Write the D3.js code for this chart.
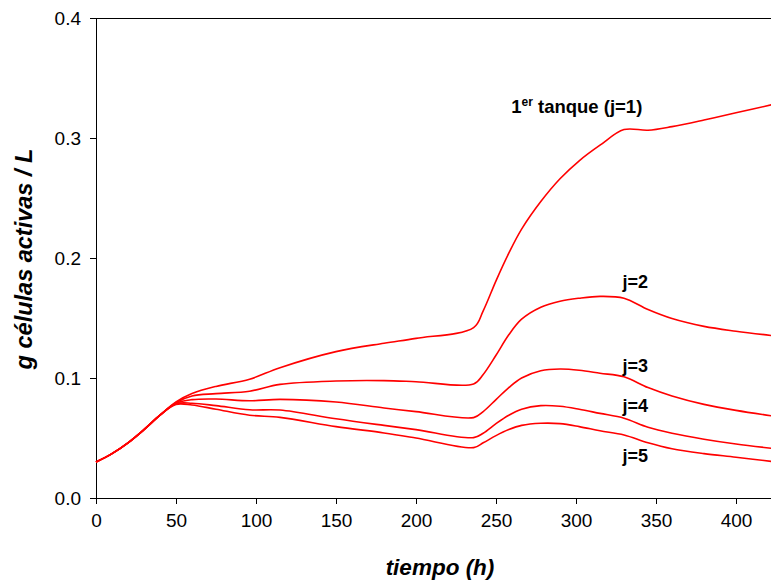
<!DOCTYPE html>
<html>
<head>
<meta charset="utf-8">
<script src="https://cdn.jsdelivr.net/npm/d3@7"></script>
<style>
  body { margin: 0; background: #fff; }
  text { font-family: Arial, "Liberation Sans", sans-serif; }
</style>
</head>
<body>
<div class="chart"></div>
<script>
// Sampling times (h)
const tiempo = [0, 10, 20, 30, 40, 50, 60, 75, 96, 115, 150, 180, 200, 236, 242, 250, 258, 266, 278, 290, 302, 315, 330, 345, 360, 380, 400, 425];

// Active cells (g/L) for each tank
const tanque1 = [0.030, 0.037, 0.046, 0.057, 0.069, 0.080, 0.087, 0.093, 0.099, 0.1086, 0.122, 0.129, 0.133, 0.142, 0.156, 0.181, 0.204, 0.224, 0.247, 0.266, 0.281, 0.294, 0.307, 0.3065, 0.3095, 0.315, 0.321, 0.3285];
const tanque2 = [0.030, 0.037, 0.046, 0.057, 0.069, 0.0795, 0.085, 0.087, 0.089, 0.0947, 0.0975, 0.0978, 0.0969, 0.095, 0.103, 0.119, 0.136, 0.149, 0.159, 0.164, 0.1665, 0.168, 0.1665, 0.157, 0.1495, 0.143, 0.139, 0.135];
const tanque3 = [0.030, 0.037, 0.046, 0.057, 0.069, 0.079, 0.082, 0.0825, 0.081, 0.0822, 0.080, 0.075, 0.072, 0.067, 0.072, 0.082, 0.092, 0.100, 0.106, 0.1075, 0.1065, 0.104, 0.101, 0.092, 0.085, 0.078, 0.073, 0.068];
const tanque4 = [0.030, 0.037, 0.046, 0.057, 0.069, 0.0785, 0.079, 0.077, 0.0735, 0.0733, 0.066, 0.0605, 0.057, 0.0503, 0.054, 0.062, 0.069, 0.074, 0.077, 0.0765, 0.074, 0.0705, 0.0665, 0.059, 0.054, 0.049, 0.045, 0.041];
const tanque5 = [0.030, 0.037, 0.046, 0.057, 0.069, 0.078, 0.0775, 0.074, 0.069, 0.0672, 0.0595, 0.0542, 0.050, 0.042, 0.046, 0.052, 0.057, 0.0605, 0.0623, 0.062, 0.0595, 0.056, 0.0525, 0.046, 0.041, 0.037, 0.034, 0.030];

const series = [tanque1, tanque2, tanque3, tanque4, tanque5];

// Curve labels: text and anchor point in data units
const etiquetas = [
    { j: 2, t: 329, v: 0.175 },
    { j: 3, t: 329, v: 0.105 },
    { j: 4, t: 329, v: 0.0715 },
    { j: 5, t: 329, v: 0.030 }
];

const xTicks = [0, 50, 100, 150, 200, 250, 300, 350, 400];
const yTicks = [0, 0.1, 0.2, 0.3, 0.4];

const svg = d3.select(".chart")
    .append("svg")
    .attr("width", 771)
    .attr("height", 583);

const xScale = d3.scaleLinear()
    .domain([0, 425])
    .range([96, 776]);

const yScale = d3.scaleLinear()
    .domain([0, 0.4])
    .range([498, 18]);

// top frame line
svg.append("line")
    .attr("x1", 96).attr("x2", 776)
    .attr("y1", 18.5).attr("y2", 18.5)
    .attr("stroke", "#000")
    .attr("stroke-width", 1);

// x axis
const xAxis = svg.append("g")
    .attr("transform", "translate(0, 498)")
    .call(d3.axisBottom(xScale).tickValues(xTicks).tickSizeOuter(0).tickSize(6).tickPadding(10));

// y axis
const yAxis = svg.append("g")
    .attr("transform", "translate(96, 0)")
    .call(d3.axisLeft(yScale).tickValues(yTicks).tickFormat(d3.format(".1f")).tickSizeOuter(0).tickSize(6).tickPadding(9));

svg.selectAll(".domain").attr("stroke", "#000");
svg.selectAll(".tick line").attr("stroke", "#000");
xAxis.selectAll("text").attr("font-size", 19).attr("fill", "#000").attr("font-family", "Arial, 'Liberation Sans', sans-serif");
yAxis.selectAll("text").attr("font-size", 19).attr("fill", "#000").attr("font-family", "Arial, 'Liberation Sans', sans-serif");

// line generator
const line = d3.line()
    .x((d, i) => xScale(tiempo[i]))
    .y(d => yScale(d))
    .curve(d3.curveCatmullRom.alpha(0.5));

svg.selectAll(".line")
    .data(series)
    .enter()
    .append("path")
    .attr("class", "line")
    .attr("fill", "none")
    .attr("stroke", "#ff0000")
    .attr("stroke-width", 1.6)
    .attr("d", d => line(d));

// label for first tank
const lab1 = svg.append("text")
    .attr("x", xScale(259.5))
    .attr("y", yScale(0.3207))
    .attr("font-size", 18.5)
    .attr("font-weight", "bold");
lab1.append("tspan").text("1");
lab1.append("tspan").attr("font-size", 12).attr("dy", -7).text("er");
lab1.append("tspan").attr("dy", 7).text(" tanque (j=1)");

svg.selectAll(".lab")
    .data(etiquetas)
    .enter()
    .append("text")
    .attr("class", "lab")
    .attr("x", d => xScale(d.t))
    .attr("y", d => yScale(d.v))
    .attr("font-size", 18)
    .attr("font-weight", "bold")
    .text(d => "j=" + d.j);

// axis titles
svg.append("text")
    .attr("x", 440)
    .attr("y", 575)
    .attr("text-anchor", "middle")
    .attr("font-size", 22.5)
    .attr("font-weight", "bold")
    .attr("font-style", "italic")
    .text("tiempo (h)");

svg.append("text")
    .attr("transform", "translate(32, 259) rotate(-90)")
    .attr("text-anchor", "middle")
    .attr("font-size", 23.5)
    .attr("font-weight", "bold")
    .attr("font-style", "italic")
    .text("g células activas / L");
</script>
</body>
</html>
